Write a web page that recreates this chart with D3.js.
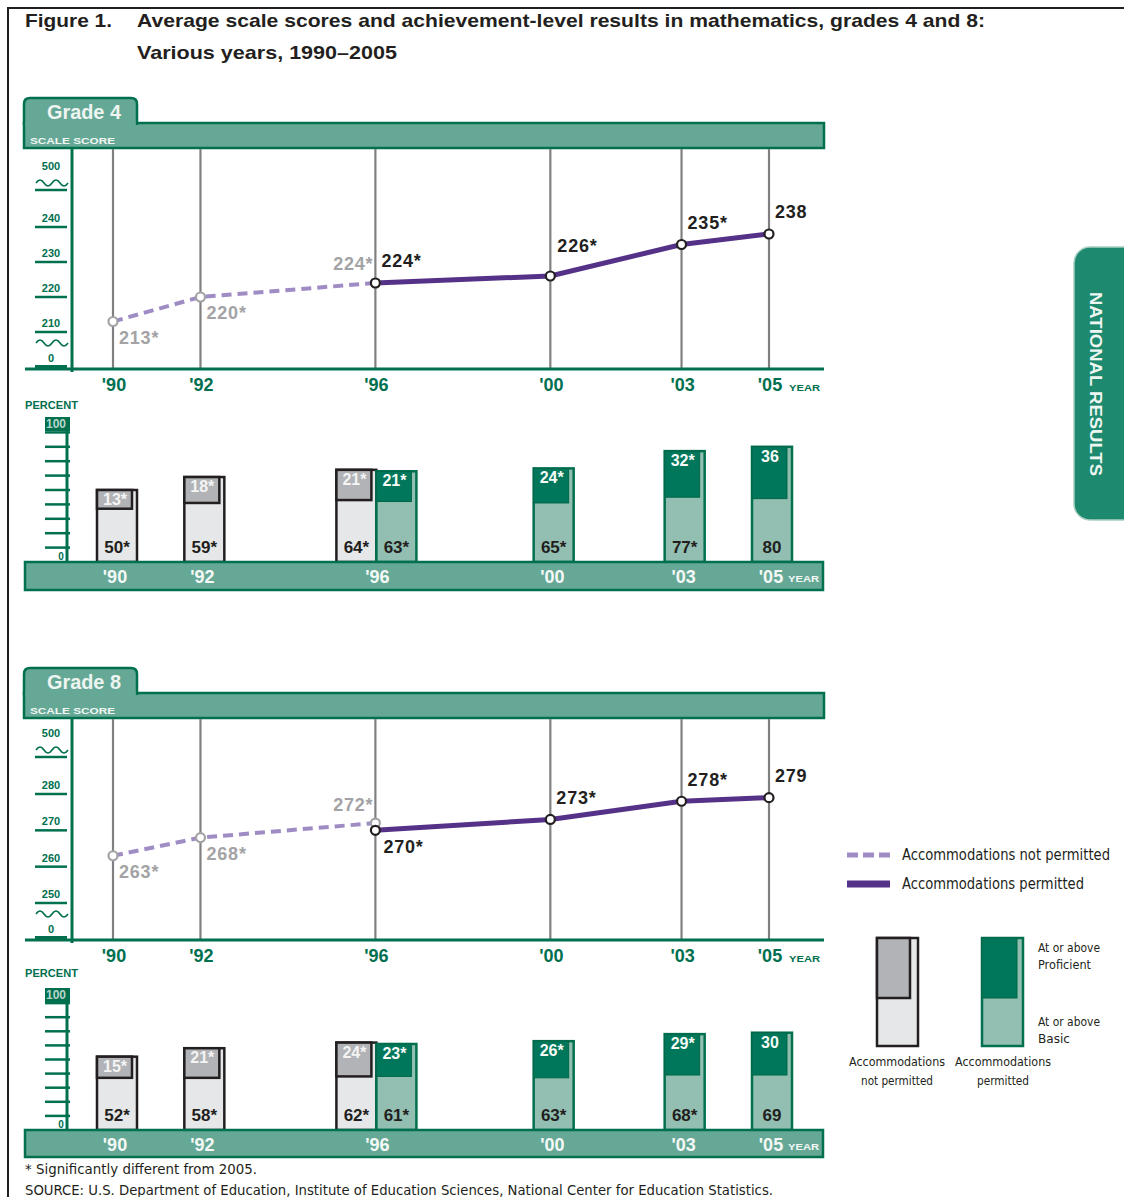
<!DOCTYPE html>
<html><head><meta charset="utf-8">
<script src="https://cdn.jsdelivr.net/npm/d3@7"></script>
<style>body{margin:0;background:#fff}svg{display:block}</style>
</head><body>
<svg id="c" width="1124" height="1197"></svg>
<script>
// ---------- DATA ----------
const years = [1990, 1992, 1996, 2000, 2003, 2005];
const yearLabels = ["'90", "'92", "'96", "'00", "'03", "'05"];
const npYears = [1990, 1992, 1996];          // accommodations not permitted
const pYears = [1996, 2000, 2003, 2005];     // accommodations permitted

const g4ScoreNP = [213, 220, 224];
const g4ScoreP = [224, 226, 235, 238];
const g8ScoreNP = [263, 268, 272];
const g8ScoreP = [270, 273, 278, 279];
const sigNP = [true, true, true];
const sigP = [true, true, true, false];

const g4BasicNP = [50, 59, 64];
const g4ProfNP = [13, 18, 21];
const g4BasicP = [63, 65, 77, 80];
const g4ProfP = [21, 24, 32, 36];
const g8BasicNP = [52, 58, 62];
const g8ProfNP = [15, 21, 24];
const g8BasicP = [61, 63, 68, 69];
const g8ProfP = [23, 26, 29, 30];

const g4ScoreTicks = [210, 220, 230, 240];
const g8ScoreTicks = [250, 260, 270, 280];
const pctTicks = [0, 10, 20, 30, 40, 50, 60, 70, 80, 90, 100];

// ---------- STYLE ----------
const DG = "#00704f", BAND = "#66a896", LTEAL = "#92bfb1", PGREEN = "#00775a";
const PURPLE = "#553287", LPURPLE = "#9f8cc4", GRID = "#808082";
const BGRAY = "#e6e7e8", PGRAY = "#b1b3b6", INK = "#231f20";
const NARROW = "'Liberation Sans Narrow','DejaVu Sans Condensed','Arial Narrow',sans-serif";
const SANS = "'Liberation Sans',Arial,sans-serif";

const svg = d3.select("#c");
const x = d3.scaleLinear().domain([1990, 2005]).range([113, 769]);
const xb = d3.scaleLinear().domain([1990, 2005]).range([117, 772]);

// frame
svg.append("path").attr("d", "M1124,8 H8 V1197").attr("fill", "none").attr("stroke", INK).attr("stroke-width", 2);

// title
svg.append("text").attr("x", 25).attr("y", 27).attr("font-family", SANS).attr("font-weight", "bold")
  .attr("font-size", 19).attr("fill", INK).attr("textLength", 87).attr("lengthAdjust", "spacingAndGlyphs").text("Figure 1.");
svg.append("text").attr("x", 137).attr("y", 27).attr("font-family", SANS).attr("font-weight", "bold")
  .attr("font-size", 19).attr("fill", INK).attr("textLength", 848).attr("lengthAdjust", "spacingAndGlyphs")
  .text("Average scale scores and achievement-level results in mathematics, grades 4 and 8:");
svg.append("text").attr("x", 137).attr("y", 59).attr("font-family", SANS).attr("font-weight", "bold")
  .attr("font-size", 19).attr("fill", INK).attr("textLength", 260).attr("lengthAdjust", "spacingAndGlyphs")
  .text("Various years, 1990\u20132005");

function wave(x0, y) { return `M${x0},${y} q4,-6 8,0 t8,0 t8,0 t8,0`; }

function drawPanel(cfg) {
  const g = svg.append("g");
  // tab + header band
  const t = cfg.tabTop, bt = cfg.bandTop, bb = cfg.bandBot;
  g.append("rect").attr("x", 24).attr("y", bt).attr("width", 800).attr("height", bb - bt)
    .attr("fill", BAND).attr("stroke", DG).attr("stroke-width", 2.5);
  g.append("path").attr("d", `M24,${bt + 2} V${t + 6} Q24,${t} 30,${t} H131 Q137,${t} 137,${t + 6} V${bt + 2}`)
    .attr("fill", BAND).attr("stroke", DG).attr("stroke-width", 2.5);
  g.append("rect").attr("x", 25.5).attr("y", bt - 2).attr("width", 110).attr("height", 5).attr("fill", BAND);
  g.append("text").attr("x", 47).attr("y", t + 21).attr("font-family", SANS).attr("font-weight", "bold")
    .attr("font-size", 21).attr("fill", "#eef5f1").attr("textLength", 74).attr("lengthAdjust", "spacingAndGlyphs").text(cfg.title);
  g.append("text").attr("x", 30).attr("y", bb - 4).attr("font-family", SANS).attr("font-weight", "bold")
    .attr("font-size", 9).attr("fill", "#f2f7f4").attr("textLength", 85).attr("lengthAdjust", "spacingAndGlyphs").text("SCALE SCORE");

  const y = d3.scaleLinear().domain(cfg.scoreDomain).range(cfg.scoreRange);
  const base = cfg.base;
  // vertical year gridlines
  g.selectAll(".grid").data(years).join("line")
    .attr("x1", d => x(d)).attr("x2", d => x(d)).attr("y1", bb + 1).attr("y2", base)
    .attr("stroke", GRID).attr("stroke-width", 2.2);
  // axes
  g.append("line").attr("x1", 72).attr("x2", 72).attr("y1", bb).attr("y2", base + 3).attr("stroke", DG).attr("stroke-width", 3);
  g.append("line").attr("x1", 25).attr("x2", 824).attr("y1", base).attr("y2", base).attr("stroke", DG).attr("stroke-width", 3);
  // score tick labels with underlines
  const tickG = g.append("g");
  const tickItems = cfg.scoreTicks.map(v => ({ label: String(v), y: y(v), off: 5 }));
  const topY = y(cfg.scoreTicks[cfg.scoreTicks.length - 1]) - 37;
  tickItems.push({ label: "500", y: topY, off: 20 });
  tickItems.push({ label: "0", y: base - 2, off: 5 });
  tickG.selectAll("line").data(tickItems).join("line")
    .attr("x1", 35).attr("x2", 67).attr("y1", d => d.y).attr("y2", d => d.y)
    .attr("stroke", DG).attr("stroke-width", d => d.label === "0" ? 4 : 2.5);
  tickG.selectAll("text").data(tickItems).join("text")
    .attr("x", 51).attr("y", d => d.y - d.off).attr("text-anchor", "middle")
    .attr("font-family", SANS).attr("font-weight", "bold").attr("font-size", 11).attr("fill", DG)
    .text(d => d.label);
  g.append("path").attr("d", wave(36, topY - 7)).attr("fill", "none").attr("stroke", DG).attr("stroke-width", 1.6);
  g.append("path").attr("d", wave(36, y(cfg.scoreTicks[0]) + 11)).attr("fill", "none").attr("stroke", DG).attr("stroke-width", 1.6);

  // year labels under line chart
  g.selectAll(".yl").data(years).join("text")
    .attr("x", (d) => x(d) + 1).attr("y", base + 22).attr("text-anchor", "middle")
    .attr("font-family", SANS).attr("font-weight", "bold").attr("font-size", 18).attr("fill", DG)
    .text((d, i) => yearLabels[i]);
  g.append("text").attr("x", 789).attr("y", base + 22).attr("font-family", SANS).attr("font-weight", "bold")
    .attr("font-size", 9).attr("fill", DG).attr("textLength", 31).attr("lengthAdjust", "spacingAndGlyphs").text("YEAR");

  // lines
  const npData = npYears.map((yr, i) => ({ yr, v: cfg.scoreNP[i], sig: sigNP[i] }));
  const pData = pYears.map((yr, i) => ({ yr, v: cfg.scoreP[i], sig: sigP[i] }));
  const line = d3.line().x(d => x(d.yr)).y(d => y(d.v));
  g.append("path").attr("d", line(npData)).attr("fill", "none").attr("stroke", LPURPLE)
    .attr("stroke-width", 4).attr("stroke-dasharray", "10,6");
  g.append("path").attr("d", line(pData)).attr("fill", "none").attr("stroke", PURPLE).attr("stroke-width", 5);
  g.selectAll(".npc").data(npData).join("circle").attr("cx", d => x(d.yr)).attr("cy", d => y(d.v)).attr("r", 4.5)
    .attr("fill", "#fff").attr("stroke", "#a3a3a5").attr("stroke-width", 2.2);
  g.selectAll(".pc").data(pData).join("circle").attr("cx", d => x(d.yr)).attr("cy", d => y(d.v)).attr("r", 4.5)
    .attr("fill", "#fff").attr("stroke", INK).attr("stroke-width", 2.2);

  const place = {
    br: { dx: 6, dy: 16, a: "start" },
    al: { dx: -2, dy: -19, a: "end" },
    ar: { dx: 6, dy: -22, a: "start" },
    ah: { dx: 7, dy: -30, a: "start" },
    bp: { dx: 8, dy: 16, a: "start" }
  };
  function labels(data, placements, color) {
    g.selectAll(null).data(data).join("text")
      .attr("x", (d, i) => x(d.yr) + place[placements[i]].dx)
      .attr("y", (d, i) => y(d.v) + place[placements[i]].dy)
      .attr("dy", "0.36em").attr("text-anchor", (d, i) => place[placements[i]].a)
      .attr("font-family", SANS).attr("font-weight", "bold").attr("font-size", 18).attr("letter-spacing", 0.8)
      .attr("fill", color).text(d => d.v + (d.sig ? "*" : ""));
  }
  labels(npData, cfg.npPlace, "#a3a3a5");
  labels(pData, cfg.pPlace, INK);

  // ---------- bar section ----------
  const yp = d3.scaleLinear().domain([0, 100]).range([cfg.barBase, cfg.bar100]);
  g.append("text").attr("x", 25).attr("y", cfg.percentY).attr("font-family", SANS).attr("font-weight", "bold")
    .attr("font-size", 10).attr("fill", DG).attr("textLength", 53).attr("lengthAdjust", "spacingAndGlyphs").text("PERCENT");
  g.append("line").attr("x1", 67).attr("x2", 67).attr("y1", yp(100) - 1).attr("y2", cfg.barBase).attr("stroke", DG).attr("stroke-width", 3);
  g.selectAll(".pt").data(pctTicks.filter(v => v > 0 && v < 100)).join("line")
    .attr("x1", 45).attr("x2", 70).attr("y1", d => yp(d)).attr("y2", d => yp(d)).attr("stroke", DG).attr("stroke-width", 2.5);
  g.append("rect").attr("x", 45).attr("y", yp(100) - 1).attr("width", 25).attr("height", 14).attr("fill", DG);
  g.append("text").attr("x", 56).attr("y", yp(100) + 10).attr("text-anchor", "middle").attr("font-family", SANS)
    .attr("font-weight", "bold").attr("font-size", 12).attr("fill", "#b9d6cb").text(pctTicks[pctTicks.length - 1]);
  g.append("text").attr("x", 61).attr("y", cfg.barBase - 2).attr("text-anchor", "middle").attr("font-family", SANS)
    .attr("font-weight", "bold").attr("font-size", 10).attr("fill", DG).text(pctTicks[0]);

  const BW = 40;
  const npBars = npYears.map((yr, i) => ({ yr, basic: cfg.basicNP[i], prof: cfg.profNP[i], sig: sigNP[i],
    x0: yr === 1996 ? x(yr) - BW + 1 : xb(yr) - BW / 2 }));
  const pBars = pYears.map((yr, i) => ({ yr, basic: cfg.basicP[i], prof: cfg.profP[i], sig: sigP[i],
    x0: yr === 1996 ? x(yr) + 1 : xb(yr) - BW / 2 }));

  function bars(data, fillOuter, strokeOuter, fillInner, strokeInner, profText) {
    const bg = g.append("g");
    const sel = bg.selectAll("g").data(data).join("g");
    sel.append("rect").attr("x", d => d.x0).attr("y", d => yp(d.basic)).attr("width", BW)
      .attr("height", d => cfg.barBase - yp(d.basic)).attr("fill", fillOuter).attr("stroke", strokeOuter).attr("stroke-width", 2.5);
    sel.append("rect").attr("x", d => d.x0).attr("y", d => yp(d.basic)).attr("width", BW - 5)
      .attr("height", d => yp(0) - yp(d.prof)).attr("fill", fillInner).attr("stroke", strokeInner).attr("stroke-width", strokeInner === INK ? 2.5 : 1);
    sel.append("text").attr("x", d => d.x0 + BW / 2 - 2).attr("y", d => yp(d.basic) + 15).attr("text-anchor", "middle")
      .attr("font-family", SANS).attr("font-weight", "bold").attr("font-size", 16).attr("fill", profText)
      .text(d => d.prof + (d.sig ? "*" : ""));
    sel.append("text").attr("x", d => d.x0 + BW / 2).attr("y", cfg.barBase - 9).attr("text-anchor", "middle")
      .attr("font-family", SANS).attr("font-weight", "bold").attr("font-size", 17).attr("fill", INK)
      .text(d => d.basic + (d.sig ? "*" : ""));
  }
  bars(npBars, BGRAY, INK, PGRAY, INK, "#f4f4f4");
  bars(pBars, LTEAL, DG, PGREEN, "#006648", "#f6fbf8");

  // bottom band
  g.append("rect").attr("x", 25).attr("y", cfg.barBase).attr("width", 798).attr("height", cfg.barBandBot - cfg.barBase)
    .attr("fill", BAND).attr("stroke", DG).attr("stroke-width", 2.5);
  g.selectAll(".byl").data(years).join("text")
    .attr("x", d => x(d) + 2).attr("y", cfg.barBase + 21).attr("text-anchor", "middle")
    .attr("font-family", SANS).attr("font-weight", "bold").attr("font-size", 18).attr("fill", "#f4f8f6")
    .text((d, i) => yearLabels[i]);
  g.append("text").attr("x", 788).attr("y", cfg.barBase + 20).attr("font-family", SANS).attr("font-weight", "bold")
    .attr("font-size", 9).attr("fill", "#f4f8f6").attr("textLength", 31).attr("lengthAdjust", "spacingAndGlyphs").text("YEAR");
}

drawPanel({
  title: "Grade 4", tabTop: 98, bandTop: 123, bandBot: 148, base: 369,
  scoreDomain: [210, 240], scoreRange: [332, 227], scoreTicks: g4ScoreTicks,
  scoreNP: g4ScoreNP, scoreP: g4ScoreP, npPlace: ["br", "br", "al"], pPlace: ["ar", "ah", "ar", "ar"],
  percentY: 409, barBase: 562, bar100: 418, barBandBot: 590,
  basicNP: g4BasicNP, profNP: g4ProfNP, basicP: g4BasicP, profP: g4ProfP
});
drawPanel({
  title: "Grade 8", tabTop: 668, bandTop: 693, bandBot: 718, base: 940,
  scoreDomain: [250, 280], scoreRange: [903, 794], scoreTicks: g8ScoreTicks,
  scoreNP: g8ScoreNP, scoreP: g8ScoreP, npPlace: ["br", "br", "al"], pPlace: ["bp", "ar", "ar", "ar"],
  percentY: 977, barBase: 1130, bar100: 989, barBandBot: 1157,
  basicNP: g8BasicNP, profNP: g8ProfNP, basicP: g8BasicP, profP: g8ProfP
});

// ---------- legend ----------
const lg = svg.append("g");
lg.append("line").attr("x1", 847).attr("x2", 890).attr("y1", 855).attr("y2", 855).attr("stroke", LPURPLE)
  .attr("stroke-width", 5).attr("stroke-dasharray", "11,5");
lg.append("line").attr("x1", 847).attr("x2", 890).attr("y1", 884).attr("y2", 884).attr("stroke", PURPLE).attr("stroke-width", 7);
lg.append("text").attr("x", 902).attr("y", 860).attr("font-family", NARROW).attr("font-size", 15).attr("fill", INK)
  .attr("textLength", 208).attr("lengthAdjust", "spacingAndGlyphs").text("Accommodations not permitted");
lg.append("text").attr("x", 902).attr("y", 889).attr("font-family", NARROW).attr("font-size", 15).attr("fill", INK)
  .attr("textLength", 182).attr("lengthAdjust", "spacingAndGlyphs").text("Accommodations permitted");
lg.append("rect").attr("x", 877).attr("y", 938).attr("width", 41).attr("height", 108).attr("fill", BGRAY).attr("stroke", INK).attr("stroke-width", 2.5);
lg.append("rect").attr("x", 877).attr("y", 938).attr("width", 33).attr("height", 60).attr("fill", PGRAY).attr("stroke", INK).attr("stroke-width", 2.5);
lg.append("rect").attr("x", 982).attr("y", 938).attr("width", 41).attr("height", 108).attr("fill", LTEAL).attr("stroke", DG).attr("stroke-width", 2.5);
lg.append("rect").attr("x", 982).attr("y", 938).attr("width", 35).attr("height", 60).attr("fill", PGREEN).attr("stroke", "#006648").attr("stroke-width", 1);
const legTexts = [
  { t: "At or above", x: 1038, y: 952, w: 62, a: "start" },
  { t: "Proficient", x: 1038, y: 969, w: 53, a: "start" },
  { t: "At or above", x: 1038, y: 1026, w: 62, a: "start" },
  { t: "Basic", x: 1038, y: 1043, w: 32, a: "start" },
  { t: "Accommodations", x: 897, y: 1066, w: 96, a: "middle" },
  { t: "not permitted", x: 897, y: 1085, w: 72, a: "middle" },
  { t: "Accommodations", x: 1003, y: 1066, w: 96, a: "middle" },
  { t: "permitted", x: 1003, y: 1085, w: 52, a: "middle" }
];
lg.selectAll(".lt").data(legTexts).join("text").attr("x", d => d.x).attr("y", d => d.y).attr("text-anchor", d => d.a)
  .attr("font-family", NARROW).attr("font-size", 13).attr("fill", INK)
  .attr("textLength", d => d.w).attr("lengthAdjust", "spacingAndGlyphs").text(d => d.t);

// ---------- side tab ----------
svg.append("rect").attr("x", 1074).attr("y", 247).attr("width", 80).attr("height", 273).attr("rx", 16)
  .attr("fill", "#1d8a6f").attr("stroke", "#a9cfc2").attr("stroke-width", 1.5);
svg.append("text").attr("transform", "translate(1090,384) rotate(90)").attr("text-anchor", "middle")
  .attr("font-family", SANS).attr("font-weight", "bold").attr("font-size", 17).attr("fill", "#eef6f2")
  .attr("textLength", 184).attr("lengthAdjust", "spacingAndGlyphs").text("NATIONAL RESULTS");

// ---------- footer ----------
svg.append("text").attr("x", 25).attr("y", 1174).attr("font-family", NARROW).attr("font-size", 14).attr("fill", INK)
  .attr("textLength", 232).attr("lengthAdjust", "spacingAndGlyphs").text("* Significantly different from 2005.");
svg.append("text").attr("x", 25).attr("y", 1195).attr("font-family", NARROW).attr("font-size", 14).attr("fill", INK)
  .attr("textLength", 748).attr("lengthAdjust", "spacingAndGlyphs")
  .text("SOURCE: U.S. Department of Education, Institute of Education Sciences, National Center for Education Statistics.");
</script>
</body></html>
